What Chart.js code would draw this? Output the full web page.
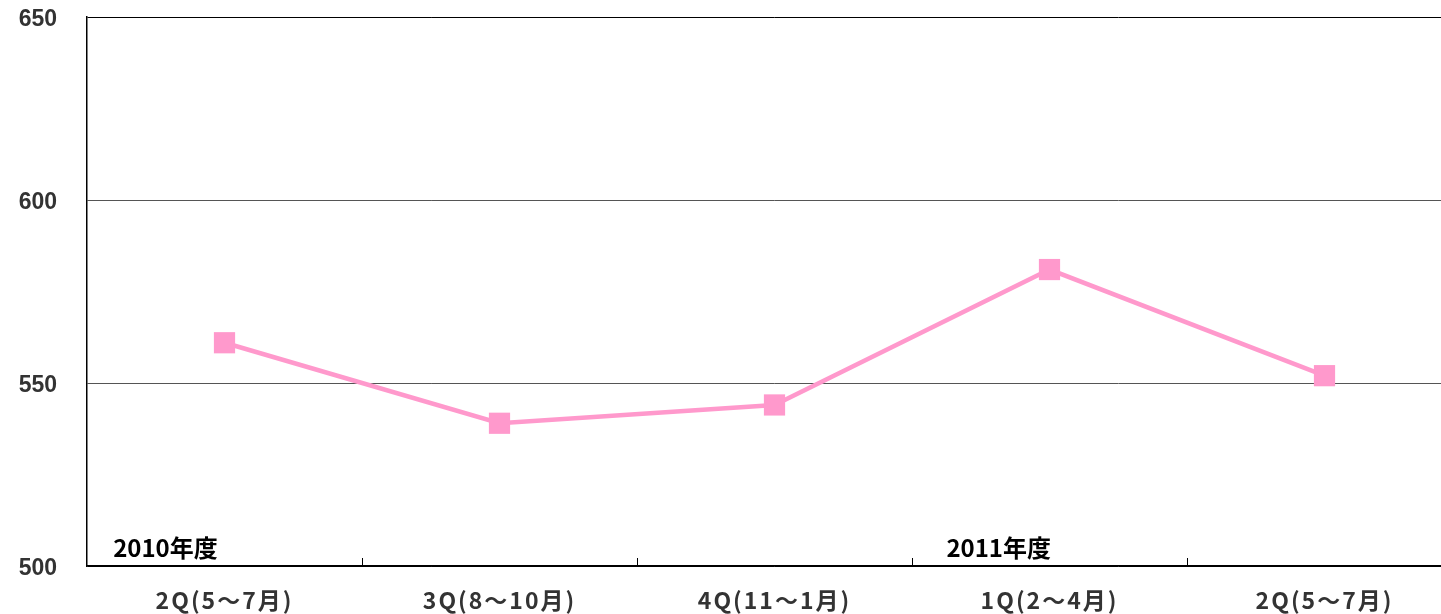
<!DOCTYPE html>
<html>
<head>
<meta charset="utf-8">
<script src="https://cdn.jsdelivr.net/npm/chart.js@4/dist/chart.umd.min.js"></script>
<style>
html, body { margin: 0; padding: 0; overflow: hidden; background: #fff; width: 1441px; height: 614px; }
canvas { display: block; }
</style>
</head>
<body>
<canvas id="c" width="1462" height="614"></canvas>
<script>
const categories = ["2Q(5～7月)", "3Q(8～10月)", "4Q(11～1月)", "1Q(2～4月)", "2Q(5～7月)"];
const values = [561, 539, 544, 581, 552];
const yTicks = [500, 550, 600, 650];
const yearLabels = ["2010年度", "2011年度"];
const yearLabelCategory = [0, 3];

const cjk = "'Noto Sans CJK JP', 'Noto Sans', sans-serif";

const decorations = {
  id: 'decorations',
  beforeDraw(chart) {
    const xs = chart.scales.x;
    if (!xs._spaced) {
      const orig = xs.drawLabels;
      xs.drawLabels = function (area) {
        const ctx = this.ctx;
        ctx.save();
        ctx.letterSpacing = '2px';
        orig.call(this, area);
        ctx.restore();
      };
      xs._spaced = true;
    }
  },
  afterDraw(chart) {
    const ctx = chart.ctx;
    const xs = chart.scales.x;
    const area = chart.chartArea;
    const step = xs.getPixelForValue(1) - xs.getPixelForValue(0);
    ctx.save();
    ctx.strokeStyle = '#000';
    ctx.lineWidth = 1;
    for (let i = 1; i < categories.length; i++) {
      const x = Math.round((xs.getPixelForValue(i - 1) + xs.getPixelForValue(i)) / 2) + 0.5;
      ctx.beginPath();
      ctx.moveTo(x, area.bottom);
      ctx.lineTo(x, area.bottom - 8);
      ctx.stroke();
    }
    ctx.fillStyle = '#000';
    ctx.font = "bold 24px " + cjk;
    ctx.textBaseline = 'alphabetic';
    ctx.textAlign = 'left';
    const offs = [-0.405, -0.375];
    yearLabels.forEach((t, k) => {
      const x = xs.getPixelForValue(yearLabelCategory[k]) + offs[k] * step;
      ctx.fillText(t, x, area.bottom - 9);
    });
    ctx.restore();
  }
};

new Chart(document.getElementById('c'), {
  type: 'line',
  data: {
    labels: categories,
    datasets: [{
      data: values,
      borderColor: '#ff99cc',
      backgroundColor: '#ff99cc',
      borderWidth: 4.5,
      tension: 0,
      pointStyle: 'rect',
      pointRadius: 15,
      pointHoverRadius: 15,
      pointBorderWidth: 0,
      pointBackgroundColor: '#ff99cc'
    }]
  },
  options: {
    responsive: false,
    animation: false,
    events: [],
    layout: { autoPadding: false, padding: { top: 17, right: 0, bottom: 0, left: 0 } },
    plugins: { legend: { display: false }, tooltip: { enabled: false } },
    scales: {
      x: {
        offset: true,
        grid: { display: true, drawOnChartArea: false, drawTicks: false, offset: true },
        border: { display: true, color: '#000', width: 1.5 },
        ticks: {
          color: '#333',
          font: { family: cjk, size: 23, weight: 'bold' },
          padding: 20,
          maxRotation: 0,
          autoSkip: false
        },
        afterFit(s) { s.height = 48; s.paddingLeft = 0; s.paddingRight = 0; s.paddingTop = 0; s.paddingBottom = 0; }
      },
      y: {
        min: 500,
        max: 650,
        afterBuildTicks(s) { s.ticks = yTicks.map(v => ({ value: v })); },
        grid: {
          drawTicks: false,
          color: ctx => (ctx.tick && (ctx.tick.value === 650 || ctx.tick.value === 500)) ? '#000' : '#555',
          lineWidth: 1
        },
        border: { display: true, color: '#000', width: 1.5 },
        ticks: {
          color: '#333',
          font: { family: "'Liberation Sans', Arial, sans-serif", size: 23, weight: 'bold' },
          padding: 30,
          labelOffset: 3
        },
        afterFit(s) { s.width = 87; s.paddingTop = 0; s.paddingBottom = 0; s.paddingLeft = 0; s.paddingRight = 0; }
      }
    }
  },
  plugins: [decorations]
});
</script>
</body>
</html>
